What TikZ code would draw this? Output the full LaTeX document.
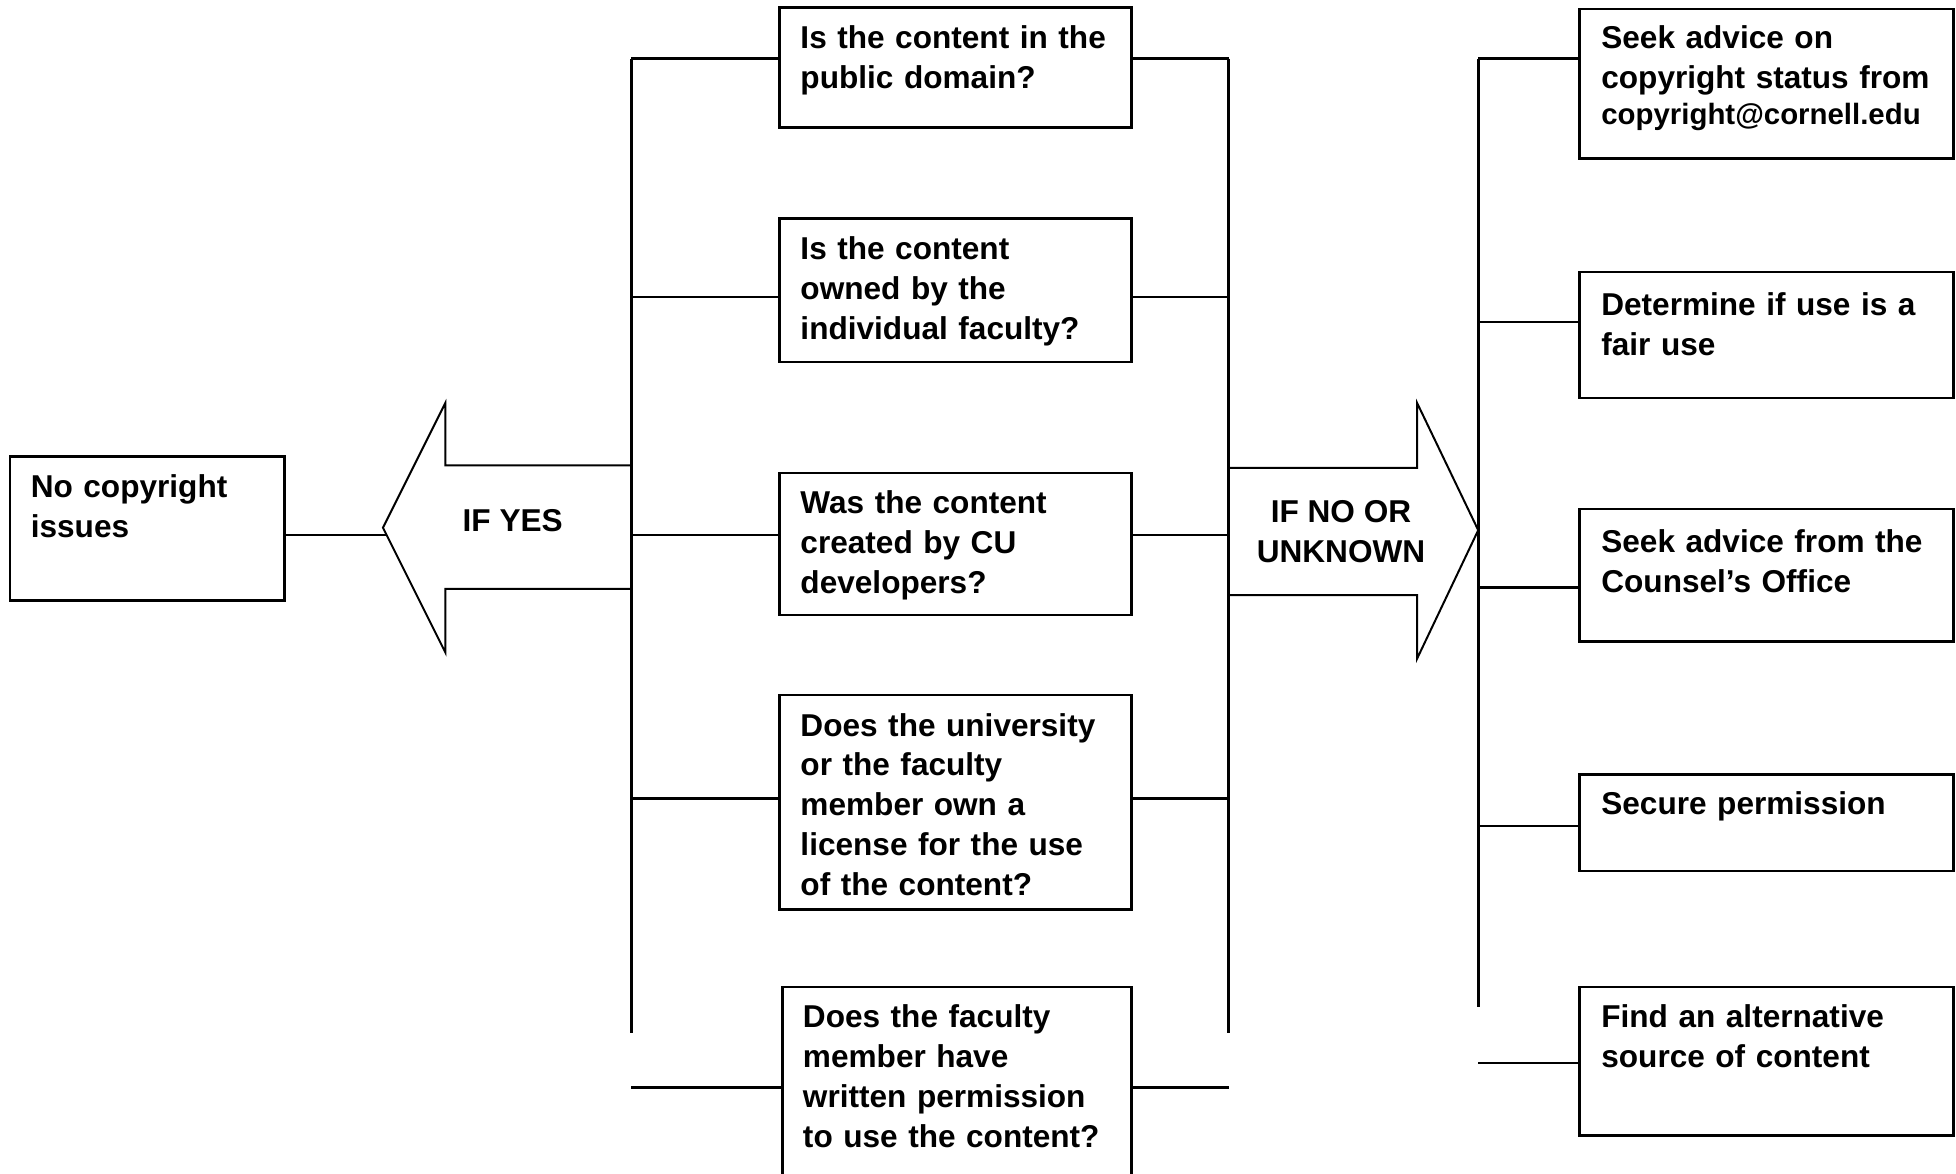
\documentclass[tikz,border=0pt]{standalone}
\usepackage{fontspec}
\setmainfont{Liberation Sans}
\newcommand{\fs}{\fontsize{7.2pt}{9.1pt}\selectfont\bfseries}
\tikzset{
  box/.style={draw, line width=0.6pt, inner sep=0pt, anchor=north west},
  txt/.style={anchor=base west, inner sep=0pt, align=left, font=\fs, text width=2.75cm},
  lbl/.style={anchor=center, inner sep=0pt, align=center, font=\fs},
  ln/.style={line width=0.6pt},
  arr/.style={line width=0.45pt, line join=miter},
}
\begin{document}
\begin{tikzpicture}[x=0.01cm, y=-0.01cm]
\useasboundingbox (0,0) rectangle (1568,941);
\clip (0,0) rectangle (1568,941);

% left result box
\node[box, minimum width=2.20cm, minimum height=1.15cm] (nc) at (7,365) {};
\node[txt] (nct) at (24,399) {No copyright\\issues};

% middle question boxes
\node[box, minimum width=2.82cm, minimum height=0.96cm] (q1) at (624,5) {};
\node[txt] (q1t) at (641,39) {Is the content in the\\public domain?};
\node[box, minimum width=2.82cm, minimum height=1.15cm] (q2) at (624,174) {};
\node[txt] (q2t) at (641,208) {Is the content\\owned by the\\individual faculty?};
\node[box, minimum width=2.82cm, minimum height=1.14cm] (q3) at (624,378) {};
\node[txt] (q3t) at (641,412) {Was the content\\created by CU\\developers?};
\node[box, minimum width=2.82cm, minimum height=1.72cm] (q4) at (624,556) {};
\node[txt] (q4t) at (641,590) {Does the university\\or the faculty\\member own a\\license for the use\\of the content?};
\node[box, minimum width=2.80cm, minimum height=2.00cm] (q5) at (626,790) {};
\node[txt] (q5t) at (643,824) {Does the faculty\\member have\\written permission\\to use the content?};

% right action boxes
\node[box, minimum width=3.00cm, minimum height=1.20cm] (r1) at (1265,6) {};
\node[txt, text width=2.8cm] (r1t) at (1283,39) {Seek advice on\\copyright status from\\[-0.85pt]{\fontsize{6.7pt}{8.2pt}\selectfont copyright@cornell.edu}};
\node[box, minimum width=3.00cm, minimum height=1.01cm] (r2) at (1265,217) {};
\node[txt, text width=2.8cm] (r2t) at (1283,253) {Determine if use is a\\fair use};
\node[box, minimum width=3.00cm, minimum height=1.06cm] (r3) at (1265,407) {};
\node[txt, text width=2.8cm] (r3t) at (1283,443) {Seek advice from the\\Counsel’s Office};
\node[box, minimum width=3.00cm, minimum height=0.77cm] (r4) at (1265,620) {};
\node[txt, text width=2.8cm] (r4t) at (1283,653) {Secure permission};
\node[box, minimum width=3.00cm, minimum height=1.19cm] (r5) at (1265,790) {};
\node[txt, text width=2.8cm] (r5t) at (1283,824) {Find an alternative\\source of content};

% junction coordinates
\coordinate (L1) at (506,47);
\coordinate (L2) at (506,238);
\coordinate (L3) at (506,429);
\coordinate (L4) at (506,640);
\coordinate (Le) at (506,828);
\coordinate (L5) at (506,872);
\coordinate (M1) at (985,47);
\coordinate (M2) at (985,238);
\coordinate (M3) at (985,429);
\coordinate (M4) at (985,640);
\coordinate (Me) at (985,828);
\coordinate (M5) at (985,872);
\coordinate (R1) at (1185,47);
\coordinate (R2) at (1185,258);
\coordinate (R3) at (1185,471);
\coordinate (R4) at (1185,662);
\coordinate (Re) at (1185,807);
\coordinate (R5) at (1185,852);
\coordinate (ytip) at (310,429);

% left bracket
\draw[ln] (L1) -- (Le);
\draw[ln] (L1) -- (L1 -| q1.west);
\draw[ln] (L2) -- (L2 -| q2.west);
\draw[ln] (L3) -- (L3 -| q3.west);
\draw[ln] (L4) -- (L4 -| q4.west);
\draw[ln] (L5) -- (L5 -| q5.west);

% middle bracket
\draw[ln] (M1) -- (Me);
\draw[ln] (M1) -- (M1 -| q1.east);
\draw[ln] (M2) -- (M2 -| q2.east);
\draw[ln] (M3) -- (M3 -| q3.east);
\draw[ln] (M4) -- (M4 -| q4.east);
\draw[ln] (M5) -- (M5 -| q5.east);

% right bracket
\draw[ln] (R1) -- (Re);
\draw[ln] (R1) -- (R1 -| r1.west);
\draw[ln] (R2) -- (R2 -| r2.west);
\draw[ln] (R3) -- (R3 -| r3.west);
\draw[ln] (R4) -- (R4 -| r4.west);
\draw[ln] (R5) -- (R5 -| r5.west);

% link from result box to left arrow
\draw[ln] (nc.east |- ytip) -- (ytip);

% left arrow (IF YES)
\draw[arr] (506,373) -- (357,373) -- (357,323) -- (307,423) -- (357,523) -- (357,472) -- (506,472);
\node[lbl] (yes) at (411,417) {IF YES};

% right arrow (IF NO OR UNKNOWN)
\draw[arr] (985,375) -- (1136,375) -- (1136,323) -- (1185,425) -- (1136,528) -- (1136,477) -- (985,477);
\node[lbl] (no) at (1075,426) {IF NO OR\\UNKNOWN};
\end{tikzpicture}
\end{document}
